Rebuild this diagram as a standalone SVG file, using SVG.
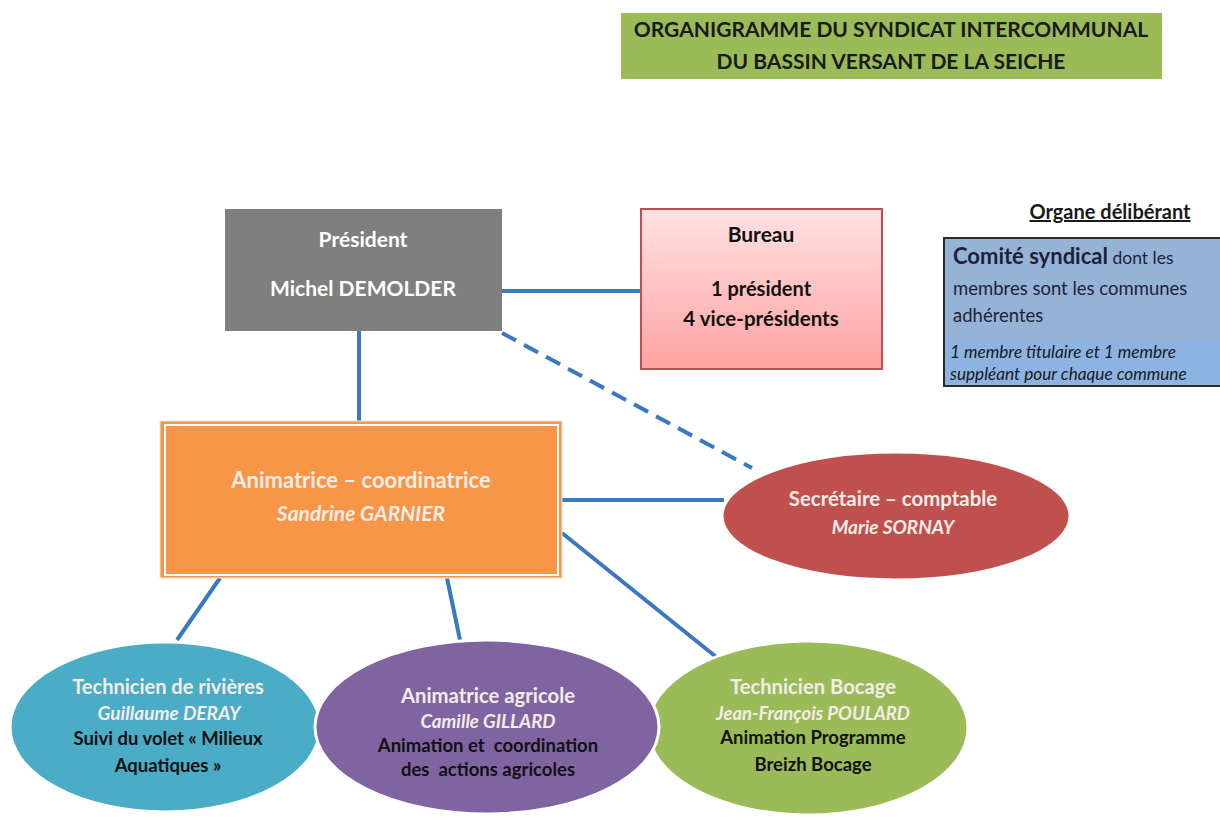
<svg xmlns="http://www.w3.org/2000/svg" width="1220" height="823" viewBox="0 0 1220 823">
  <style>
    text { font-family: Lato, "Open Sans", "Liberation Sans", sans-serif; text-anchor: middle; white-space: pre; }
    .title { font-size: 21px; font-weight: bold; fill: #1a1a1a; }
    .wh { font-weight: bold; fill: #f4ece8; }
    .whi { font-weight: bold; font-style: italic; fill: #f4ece8; }
    .bk { font-weight: bold; fill: #111; }
    .link { stroke: #3a78c2; stroke-width: 4; fill: none; }
    .oval { stroke: #ffffff; stroke-width: 3; }
  </style>
  <defs>
    <linearGradient id="pinkGrad" x1="0" y1="0" x2="0" y2="1">
      <stop offset="0" stop-color="#ffe2e2"/>
      <stop offset="1" stop-color="#ffa2a2"/>
    </linearGradient>
  </defs>
  <rect width="1220" height="823" fill="#ffffff"/>

  <!-- Title banner -->
  <g id="title">
    <rect x="621" y="13" width="541" height="66" fill="#9bbb59"/>
    <text class="title" x="891" y="37">ORGANIGRAMME DU SYNDICAT INTERCOMMUNAL</text>
    <text class="title" x="891" y="69">DU BASSIN VERSANT DE LA SEICHE</text>
  </g>

  <!-- Connectors -->
  <g id="connectors">
    <line class="link" x1="502" y1="291" x2="640" y2="291"/>
    <line class="link" x1="359" y1="331" x2="359" y2="421"/>
    <line class="link" x1="502" y1="333" x2="752" y2="468" stroke-dasharray="16 9"/>
    <line class="link" x1="562" y1="500" x2="724" y2="500"/>
    <line class="link" x1="220" y1="578" x2="177" y2="640"/>
    <line class="link" x1="447" y1="578" x2="460" y2="640"/>
    <line class="link" x1="562" y1="533" x2="720" y2="660"/>
  </g>

  <!-- Président -->
  <g id="president">
    <rect x="225" y="209" width="277" height="122" fill="#7f7f7f"/>
    <text class="wh" x="363" y="247" style="font-size:21px;fill:#ffffff">Président</text>
    <text class="wh" x="363" y="296" style="font-size:21px;fill:#ffffff">Michel DEMOLDER</text>
  </g>

  <!-- Bureau -->
  <g id="bureau">
    <rect x="641" y="209" width="241" height="160" fill="url(#pinkGrad)" stroke="#c0504d" stroke-width="2"/>
    <text class="bk" x="761" y="242" style="font-size:21px">Bureau</text>
    <text class="bk" x="761" y="296" style="font-size:20px">1 président</text>
    <text class="bk" x="761" y="326" style="font-size:20.5px">4 vice-présidents</text>
  </g>

  <!-- Organe délibérant -->
  <g id="organe">
    <text x="1110" y="219" font-size="20px" font-weight="bold" fill="#1a1a1a" text-decoration="underline">Organe délibérant</text>
    <rect x="944" y="238" width="278" height="148" fill="#95b3d7" stroke="#2b2b2b" stroke-width="2"/>
    <rect x="946" y="341" width="274" height="43" fill="#8db3e2"/>
    <text x="953" y="264" style="text-anchor:start" fill="#1f1f3a"><tspan font-size="22px" font-weight="bold">Comité syndical</tspan><tspan font-size="17.5px"> dont les</tspan></text>
    <text x="953" y="295" style="text-anchor:start" font-size="18.5px" fill="#1f1f3a">membres sont les communes</text>
    <text x="953" y="322" style="text-anchor:start" font-size="18.5px" fill="#1f1f3a">adhérentes</text>
    <text x="950" y="358" style="text-anchor:start" font-size="17.2px" font-style="italic" fill="#1a1a1a">1 membre titulaire et 1 membre</text>
    <text x="950" y="380" style="text-anchor:start" font-size="17.2px" font-style="italic" fill="#1a1a1a">suppléant pour chaque commune</text>
  </g>

  <!-- Animatrice – coordinatrice -->
  <g id="coordinatrice">
    <rect x="160" y="421" width="402" height="157" fill="#f79646" stroke="#e6e6e6" stroke-width="1"/>
    <rect x="165" y="425" width="393" height="150" fill="none" stroke="#ffffff" stroke-width="2"/>
    <text class="wh" x="361" y="488" style="font-size:22px">Animatrice – coordinatrice</text>
    <text class="whi" x="361" y="521" style="font-size:21px">Sandrine GARNIER</text>
  </g>

  <!-- Secrétaire – comptable -->
  <g id="secretaire">
    <ellipse class="oval" cx="896" cy="516" rx="174" ry="64" fill="#c0504d"/>
    <text class="wh" x="893" y="506" style="font-size:20.4px">Secrétaire – comptable</text>
    <text class="whi" x="893" y="534" style="font-size:19px">Marie SORNAY</text>
  </g>

  <!-- Technicien Bocage -->
  <g id="bocage">
    <ellipse class="oval" cx="808" cy="728" rx="160" ry="87" fill="#9bbb59"/>
    <text class="wh" x="813" y="694" style="font-size:20.2px">Technicien Bocage</text>
    <text class="whi" x="813" y="720" style="font-size:18.5px">Jean-François POULARD</text>
    <text class="bk" x="813" y="744" style="font-size:18.5px">Animation Programme</text>
    <text class="bk" x="813" y="771" style="font-size:18.5px">Breizh Bocage</text>
  </g>

  <!-- Technicien de rivières -->
  <g id="rivieres">
    <ellipse class="oval" cx="165" cy="727" rx="155" ry="85" fill="#4bacc6"/>
    <text class="wh" x="168" y="694" style="font-size:20px">Technicien de rivières</text>
    <text class="whi" x="169" y="720" style="font-size:19px">Guillaume DERAY</text>
    <text class="bk" x="168" y="745" style="font-size:18.5px">Suivi du volet « Milieux</text>
    <text class="bk" x="168" y="772" style="font-size:18.5px">Aquatiques »</text>
  </g>

  <!-- Animatrice agricole -->
  <g id="agricole">
    <ellipse class="oval" cx="487" cy="727" rx="172" ry="87" fill="#8064a2"/>
    <text class="wh" x="488" y="703" style="font-size:20.3px">Animatrice agricole</text>
    <text class="whi" x="488" y="728" style="font-size:18.7px">Camille GILLARD</text>
    <text class="bk" x="488" y="752" style="font-size:18.5px">Animation et  coordination</text>
    <text class="bk" x="488" y="776" style="font-size:18.5px">des  actions agricoles</text>
  </g>
</svg>
